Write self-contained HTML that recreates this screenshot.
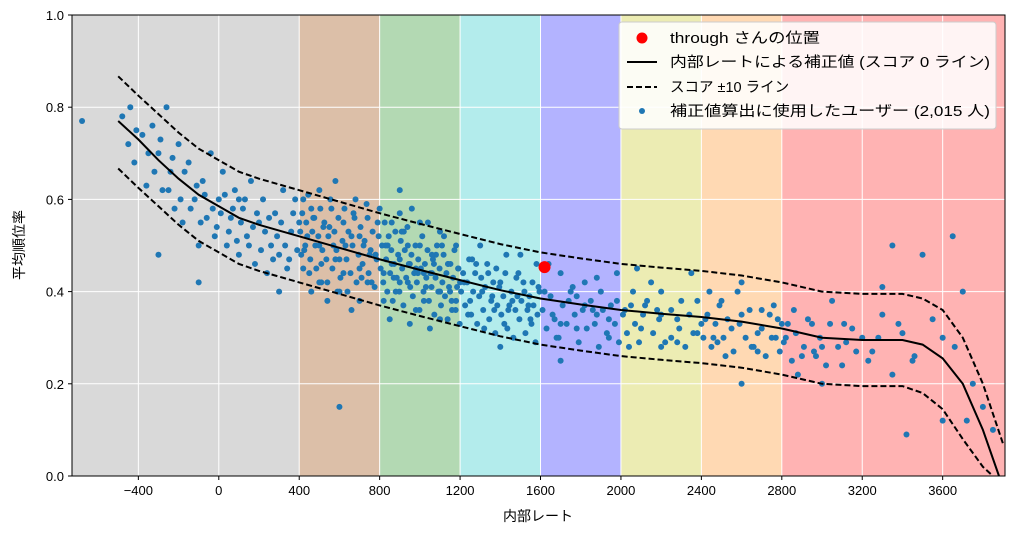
<!DOCTYPE html>
<html><head><meta charset="utf-8">
<style>
body{margin:0;background:#fff;font-family:"Liberation Sans","Noto Sans CJK JP",sans-serif;}
svg text{font-family:"Liberation Sans","Noto Sans CJK JP",sans-serif;}
</style></head>
<body>
<svg id="chart" width="1017" height="531" xmlns="http://www.w3.org/2000/svg">
<g id="bands"></g>
<g id="grid"></g>
<g id="pts"></g>
<g id="lines"></g>
<g id="axes"></g>
<text x="538" y="521" font-size="14" text-anchor="middle">内部レート</text>
<text transform="translate(24,245) rotate(-90)" font-size="14" text-anchor="middle">平均順位率</text>
<g>
<rect x="619" y="22" width="377" height="107" rx="3" fill="#fff" fill-opacity="0.85" stroke="#ccc"/>
<circle cx="642" cy="38" r="5.5" fill="#ff0000"/>
<text x="670" y="43" font-size="14.5" textLength="150" lengthAdjust="spacingAndGlyphs">through さんの位置</text>
<line x1="627" y1="62" x2="657" y2="62" stroke="#000" stroke-width="2"/>
<text x="670" y="67" font-size="14.5" textLength="320" lengthAdjust="spacingAndGlyphs">内部レートによる補正値 (スコア 0 ライン)</text>
<line x1="627" y1="87" x2="657" y2="87" stroke="#000" stroke-width="2" stroke-dasharray="6,3"/>
<text x="670" y="92" font-size="14.5">スコア ±10 ライン</text>
<circle cx="642" cy="111" r="3" fill="#1f77b4"/>
<text x="670" y="116" font-size="14.5" textLength="320" lengthAdjust="spacingAndGlyphs">補正値算出に使用したユーザー (2,015 人)</text>
</g>
</svg>
<script>
const bandEdges=[-730,400,800,1200,1600,2000,2400,2800,3910];
const bandColors=["#d9d9d9","#dcbfa8","#b3d9b3","#b3ecec","#b3b3ff","#ececb3","#ffd9b3","#ffb3b3"];
const xTicks=[-400,0,400,800,1200,1600,2000,2400,2800,3200,3600];
const xTickLabels=["−400","0","400","800","1200","1600","2000","2400","2800","3200","3600"];
const yTicks=[0,0.2,0.4,0.6,0.8,1.0];
const yTickLabels=["0.0","0.2","0.4","0.6","0.8","1.0"];
const curveX=[-500,-400,-300,-200,-100,0,100,200,400,600,800,1000,1200,1400,1600,1800,2000,2200,2400,2600,2800,3000,3200,3400,3500,3600,3700,3800,3880];
const curveY=[0.77,0.73,0.685,0.645,0.61,0.585,0.56,0.545,0.52,0.495,0.47,0.447,0.425,0.403,0.385,0.372,0.36,0.352,0.345,0.335,0.32,0.30,0.295,0.295,0.285,0.255,0.2,0.1,0.0];
const upperX=[-500,-400,-300,-200,-100,0,100,200,400,600,800,1000,1200,1400,1600,1800,2000,2200,2400,2600,2800,3000,3200,3400,3500,3600,3700,3800,3900];
const upperY=[0.867,0.825,0.785,0.745,0.71,0.685,0.66,0.645,0.62,0.595,0.57,0.547,0.525,0.503,0.485,0.472,0.46,0.452,0.445,0.435,0.42,0.40,0.395,0.395,0.385,0.36,0.3,0.2,0.07];
const lowerX=[-500,-400,-300,-200,-100,0,100,200,400,600,800,1000,1200,1400,1600,1800,2000,2200,2400,2600,2800,3000,3200,3400,3500,3600,3700,3800,3850];
const lowerY=[0.667,0.625,0.585,0.545,0.51,0.485,0.46,0.445,0.42,0.395,0.37,0.347,0.325,0.303,0.285,0.272,0.26,0.252,0.245,0.235,0.22,0.20,0.195,0.195,0.18,0.145,0.08,0.02,0.0];
const pointX=[-680,-440,-420,-380,-360,-330,-300,-280,-260,-240,-220,-200,-180,-150,-120,-100,-80,-60,-40,-20,0,20,40,60,80,100,120,140,160,180,200,220,240,260,280,300,320,340,360,380,
400,410,420,440,450,460,480,500,510,520,540,560,570,580,600,620,640,660,680,700,720,740,760,780,800,
820,840,860,880,900,920,940,960,980,1000,1020,1040,1060,1080,1100,1120,1140,1160,1180,1200,
420,460,500,540,580,620,660,700,740,780,820,860,900,940,980,1020,1060,1100,1140,1180,
430,470,510,550,590,630,670,710,750,790,830,870,910,950,990,1030,1070,1110,1150,1190,
1220,1250,1280,1310,1340,1370,1400,1430,1460,1490,1520,1550,1580,1240,1300,1360,1420,1480,1540,1590,1260,1320,1380,1440,1500,1560,
1620,1660,1700,1740,1780,1820,1860,1900,1940,1980,1640,1700,1760,1820,1880,1940,1680,1780,1880,1980,
2020,2060,2100,2150,2200,2250,2300,2350,2400,2040,2120,2200,2280,2360,2080,2180,2280,2380,
2420,2460,2500,2550,2600,2650,2700,2750,2800,2440,2520,2600,2680,2760,2480,2580,2680,2780,
2820,2860,2900,2950,3000,3050,3100,3150,3200,3250,3300,3350,3400,3450,3500,3550,3600,3650,3700,3750,3800,3850,2880,2960,3040,3120,3300,3420,3660,3720,
-300,-100,100,300,600,900,1100,1400,1700,2200,2600,3000,3350,3600];
const pointY=[0.77,0.8,0.68,0.74,0.63,0.76,0.7,0.62,0.8,0.66,0.58,0.72,0.55,0.68,0.6,0.5,0.64,0.56,0.7,0.52,0.6,0.66,0.5,0.56,0.62,0.48,0.58,0.52,0.64,0.46,0.55,0.6,0.44,0.5,0.57,0.48,0.62,0.45,0.53,0.6,
0.55,0.48,0.6,0.52,0.44,0.58,0.5,0.62,0.46,0.54,0.42,0.58,0.5,0.64,0.47,0.55,0.4,0.52,0.6,0.45,0.5,0.56,0.42,0.48,0.58,
0.44,0.5,0.55,0.4,0.47,0.53,0.42,0.58,0.45,0.5,0.38,0.55,0.44,0.48,0.4,0.52,0.46,0.36,0.5,0.42,
0.45,0.4,0.5,0.38,0.47,0.44,0.36,0.52,0.42,0.48,0.38,0.46,0.42,0.5,0.36,0.44,0.48,0.4,0.46,0.38,
0.5,0.56,0.42,0.54,0.4,0.5,0.57,0.43,0.48,0.55,0.5,0.43,0.53,0.46,0.44,0.41,0.46,0.5,0.4,0.45,
0.42,0.38,0.46,0.4,0.44,0.36,0.42,0.48,0.38,0.44,0.4,0.34,0.46,0.35,0.5,0.39,0.33,0.43,0.37,0.41,0.47,0.32,0.45,0.36,0.48,0.42,
0.4,0.35,0.44,0.38,0.32,0.42,0.36,0.4,0.3,0.38,0.46,0.33,0.41,0.37,0.43,0.34,0.3,0.39,0.35,0.44,
0.36,0.4,0.32,0.42,0.35,0.3,0.38,0.44,0.33,0.28,0.37,0.4,0.34,0.31,0.45,0.36,0.29,0.38,
0.34,0.3,0.38,0.32,0.42,0.28,0.36,0.3,0.33,0.4,0.26,0.35,0.31,0.37,0.29,0.4,0.27,0.34,
0.3,0.36,0.26,0.33,0.28,0.38,0.24,0.32,0.3,0.27,0.35,0.22,0.31,0.25,0.48,0.34,0.3,0.52,0.4,0.2,0.15,0.1,0.22,0.27,0.33,0.29,0.41,0.09,0.28,0.12,
0.48,0.42,0.6,0.4,0.15,0.62,0.34,0.28,0.25,0.28,0.2,0.2,0.5,0.12];
const densePoints=[
[-480,0.78],[-450,0.72],[-410,0.75],[-350,0.70],[-320,0.66],[-290,0.73],[-250,0.62],[-230,0.69],[-190,0.60],[-170,0.66],[-140,0.58],[-110,0.63],[-90,0.55],[-70,0.61],[-30,0.58],[-10,0.54],[10,0.57],[30,0.61],[50,0.53],[70,0.58],[90,0.51],[110,0.55],[130,0.60],[150,0.50],[170,0.54],[190,0.57],[210,0.49],[230,0.53],[250,0.56],[270,0.47],[290,0.52],[310,0.55],[330,0.50],[350,0.47],[370,0.57],[390,0.49],
[405,0.53],[415,0.57],[425,0.49],[435,0.55],[445,0.61],[455,0.47],[465,0.53],[475,0.56],[485,0.45],[495,0.52],[505,0.58],[515,0.49],[525,0.55],[535,0.47],[545,0.52],[555,0.60],[565,0.45],[575,0.53],[585,0.49],[595,0.56],[605,0.43],[615,0.51],[625,0.58],[635,0.47],[645,0.53],[655,0.44],[665,0.50],[675,0.56],[685,0.42],[695,0.48],[705,0.54],[715,0.46],[725,0.51],[735,0.59],[745,0.44],[755,0.49],[765,0.53],[775,0.41],[785,0.47],[795,0.52],
[805,0.45],[812,0.50],[818,0.42],[825,0.55],[832,0.47],[838,0.40],[845,0.52],[852,0.44],[858,0.49],[865,0.38],[872,0.46],[878,0.53],[885,0.43],[892,0.48],[898,0.40],[905,0.51],[912,0.45],[918,0.37],[925,0.49],[932,0.43],[938,0.54],[945,0.46],[952,0.41],[958,0.48],[965,0.39],[972,0.44],[978,0.50],[985,0.42],[992,0.47],[998,0.36],[1005,0.45],[1012,0.52],[1018,0.40],[1025,0.46],[1032,0.43],[1038,0.49],[1045,0.38],[1052,0.44],[1058,0.41],[1065,0.47],[1072,0.35],[1078,0.43],[1085,0.50],[1092,0.40],[1098,0.45],[1105,0.37],[1112,0.42],[1118,0.48],[1125,0.39],[1132,0.44],[1138,0.34],[1145,0.41],[1152,0.46],[1158,0.38],[1165,0.43],[1172,0.49],[1178,0.36],[1185,0.41],[1192,0.45],[1198,0.33],
[850,0.34],[950,0.33],[1050,0.32],[900,0.57],[1000,0.55],[1100,0.53],[700,0.38],[600,0.40],[500,0.42],
[1205,0.40],[1215,0.44],[1225,0.37],[1235,0.42],[1245,0.47],[1255,0.35],[1265,0.40],[1275,0.44],[1285,0.33],[1295,0.39],[1305,0.43],[1315,0.36],[1325,0.41],[1335,0.46],[1345,0.34],[1355,0.38],[1365,0.42],[1375,0.31],[1385,0.37],[1395,0.41],[1405,0.35],[1415,0.39],[1425,0.44],[1435,0.32],[1445,0.37],[1455,0.40],[1465,0.30],[1475,0.36],[1485,0.39],[1495,0.34],[1505,0.38],[1515,0.42],[1525,0.31],[1535,0.36],[1545,0.39],[1555,0.33],[1565,0.37],[1575,0.29],[1585,0.35],[1595,0.40],
[1610,0.36],[1630,0.32],[1650,0.39],[1670,0.34],[1690,0.30],[1710,0.37],[1730,0.33],[1750,0.40],[1770,0.35],[1790,0.29],[1810,0.36],[1830,0.32],[1850,0.38],[1870,0.33],[1890,0.28],[1910,0.36],[1930,0.31],[1950,0.37],[1970,0.33],[1990,0.29],
[2010,0.35],[2030,0.31],[2050,0.37],[2070,0.33],[2090,0.29],[2110,0.35],[2130,0.38],[2160,0.31],[2190,0.34],[2220,0.29],[2250,0.36],[2290,0.32],[2320,0.28],[2340,0.35],[2380,0.31],
[2410,0.30],[2430,0.35],[2450,0.28],[2470,0.33],[2490,0.37],[2510,0.30],[2530,0.34],[2560,0.27],[2590,0.33],[2620,0.30],[2640,0.36],[2660,0.28],[2700,0.32],[2720,0.26],[2740,0.35],[2770,0.30],[2790,0.27],
[2810,0.29],[2830,0.33],[2850,0.25],[2870,0.31],[2910,0.28],[2930,0.34],[2970,0.26],[2990,0.30],[3020,0.24],[3080,0.28],[3110,0.33],[3170,0.27],[3230,0.25],[3280,0.30],[3380,0.33],[3460,0.26]
];
const meX=[1620], meY=[0.453];
const X0=-730,X1=3910,PL=72,PR=1005,PT=15,PB=476;
const sx=v=>PL+(v-X0)/(X1-X0)*(PR-PL);
const sy=v=>PB-v*(PB-PT);
const NS="http://www.w3.org/2000/svg";
function mk(parent,tag,attrs){const e=document.createElementNS(NS,tag);for(const k in attrs)e.setAttribute(k,attrs[k]);document.getElementById(parent).appendChild(e);return e;}
for(let i=0;i<bandColors.length;i++){
 const r=mk("bands","rect",{x:sx(bandEdges[i]),y:PT,width:sx(bandEdges[i+1])-sx(bandEdges[i]),height:PB-PT,fill:bandColors[i]});
 
 
}
xTicks.forEach((t,i)=>{
 const l=mk("grid","line",{x1:sx(t),x2:sx(t),y1:PT,y2:PB,stroke:"#fff","stroke-width":1});
 
 
 mk("axes","line",{x1:sx(t),x2:sx(t),y1:PB,y2:PB+4,stroke:"#000"});
 const tx=mk("axes","text",{x:sx(t),y:PB+19,"font-size":13,"text-anchor":"middle"});tx.textContent=xTickLabels[i];
 
 
});
yTicks.forEach((t,i)=>{
 const l=mk("grid","line",{x1:PL,x2:PR,y1:sy(t),y2:sy(t),stroke:"#fff","stroke-width":1});
 
 
 mk("axes","line",{x1:PL-4,x2:PL,y1:sy(t),y2:sy(t),stroke:"#000"});
 const tx=mk("axes","text",{x:PL-8,y:sy(t)+5,"font-size":13,"text-anchor":"end"});tx.textContent=yTickLabels[i];
 
 
});
mk("axes","rect",{x:PL,y:PT,width:PR-PL,height:PB-PT,fill:"none",stroke:"#000"});
pointX.forEach((x,i)=>{
 const c=mk("pts","circle",{cx:sx(x),cy:sy(pointY[i]),r:3,fill:"#1f77b4"});
 
 
});
densePoints.forEach(p=>{
 const c=mk("pts","circle",{cx:sx(p[0]),cy:sy(p[1]),r:3,fill:"#1f77b4"});
 
 
});
function path(xs,ys,dash,name){
 const d=xs.map((x,i)=>(i?"L":"M")+sx(x).toFixed(1)+","+sy(ys[i]).toFixed(1)).join("");
 const p=mk("lines","path",{d:d,fill:"none",stroke:"#000","stroke-width":2});
 if(dash)p.setAttribute("stroke-dasharray","6,3");
 
 
}
path(curveX,curveY,false,'score-zero-line');
path(upperX,upperY,true,'score-plus-10-line');
path(lowerX,lowerY,true,'score-minus-10-line');
const me=mk("lines","circle",{cx:sx(meX[0]),cy:sy(meY[0]),r:6,fill:"#ff0000"});


</script>
</body></html>
